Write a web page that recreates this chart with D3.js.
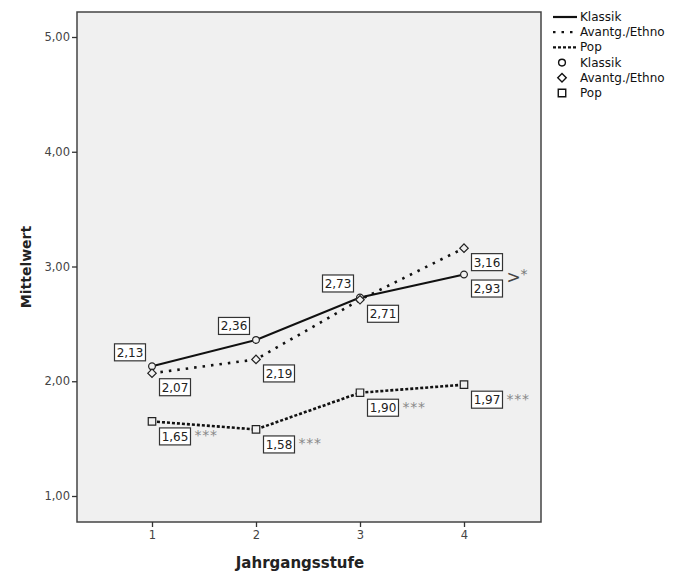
<!DOCTYPE html>
<html>
<head>
<meta charset="utf-8">
<script src="https://cdn.jsdelivr.net/npm/d3@7"></script>
<style>
  body { margin: 0; background: #fff; }
  text { font-family: "DejaVu Sans", sans-serif; }
</style>
</head>
<body>
<div id="chart"></div>
<script>
var width = 678, height = 574;

// Data
var stufen = [1, 2, 3, 4];
var klassik = [2.13, 2.36, 2.73, 2.93];
var avantg = [2.07, 2.19, 2.71, 3.16];
var pop = [1.65, 1.58, 1.90, 1.97];
var yTicks = [1, 2, 3, 4, 5];
// label side: "ul" = above left, "lr" = below right
var klassikSide = ["ul", "ul", "ul", "lr"];
var avantgSide = ["lr", "lr", "lr", "lr"];
var popSide = ["lr", "lr", "lr", "lr"];
var popSig = ["***", "***", "***", "***"];

var fmt = function(v) { return d3.format(".2f")(v).replace(".", ","); };

var box = {left: 77, right: 541, top: 12, bottom: 522};

var x = d3.scaleLinear().domain([1, 4]).range([152, 464]);
var y = d3.scaleLinear().domain([1, 5]).range([496, 37]);

var svg = d3.select("#chart").append("svg")
  .attr("width", width).attr("height", height);

svg.append("rect")
  .attr("x", box.left).attr("y", box.top)
  .attr("width", box.right - box.left).attr("height", box.bottom - box.top)
  .attr("fill", "#f0f0f0").attr("stroke", "#444").attr("stroke-width", 1.5);

// y axis
var yAxis = svg.append("g").attr("transform", "translate(" + box.left + ",0)")
  .call(d3.axisLeft(y).tickValues(yTicks).tickSize(5).tickFormat(fmt));
yAxis.select(".domain").remove();
yAxis.selectAll("line").attr("stroke", "#333").attr("stroke-width", 1.3);
yAxis.selectAll("text").attr("fill", "#444").style("font-size", "11.5px")
  .attr("x", -7);

// x axis
var xAxis = svg.append("g").attr("transform", "translate(0," + box.bottom + ")")
  .call(d3.axisBottom(x).tickValues(stufen).tickSize(5).tickFormat(d3.format("d")));
xAxis.select(".domain").remove();
xAxis.selectAll("line").attr("stroke", "#333").attr("stroke-width", 1.3);
xAxis.selectAll("text").attr("fill", "#444").style("font-size", "11.5px")
  .attr("y", 9);

svg.append("text")
  .attr("transform", "translate(31,267) rotate(-90)")
  .attr("text-anchor", "middle")
  .style("font-size", "14px").style("font-weight", "bold")
  .attr("fill", "#222")
  .text("Mittelwert");

svg.append("text")
  .attr("x", 300).attr("y", 568)
  .attr("text-anchor", "middle")
  .style("font-size", "15px").style("font-weight", "bold")
  .attr("fill", "#222")
  .text("Jahrgangsstufe");

var line = d3.line()
  .x(function(d, i) { return x(stufen[i]); })
  .y(function(d) { return y(d); });

var series = [
  {name: "Klassik", values: klassik, dash: null, sym: d3.symbolCircle, size: 36, rot: 0, side: klassikSide},
  {name: "Avantg./Ethno", values: avantg, dash: "2.5,6", sym: d3.symbolSquare, size: 36, rot: 45, side: avantgSide},
  {name: "Pop", values: pop, dash: "3,2", sym: d3.symbolSquare, size: 56, rot: 0, side: popSide}
];

series.forEach(function(s) {
  svg.append("path")
    .datum(s.values)
    .attr("d", line)
    .attr("fill", "none")
    .attr("stroke", "#111")
    .attr("stroke-width", s.dash ? 2.6 : 2)
    .attr("stroke-dasharray", s.dash);
});

series.forEach(function(s) {
  svg.selectAll(null).data(s.values).enter().append("path")
    .attr("d", d3.symbol().type(s.sym).size(s.size))
    .attr("transform", function(d, i) {
      return "translate(" + x(stufen[i]) + "," + y(d) + ") rotate(" + s.rot + ")"; })
    .attr("fill", "#f0f0f0").attr("stroke", "#222").attr("stroke-width", 1.2);
});

// value labels
var bw = 31, bh = 17;
function addLabel(px, py, side, txt, extraDy) {
  var cx = side === "ul" ? px - 22 : px + 23;
  var cy = side === "ul" ? py - 14 : py + 14 + (extraDy || 0);
  var g = svg.append("g");
  g.append("rect")
    .attr("x", cx - bw / 2).attr("y", cy - bh / 2)
    .attr("width", bw).attr("height", bh)
    .attr("fill", "#fff").attr("stroke", "#333").attr("stroke-width", 1.2);
  g.append("text")
    .attr("x", cx).attr("y", cy + 4.5)
    .attr("text-anchor", "middle")
    .style("font-size", "12px").attr("fill", "#222")
    .text(txt);
  return {cx: cx, cy: cy};
}

klassik.forEach(function(v, i) {
  var c = addLabel(x(stufen[i]), y(v), klassikSide[i], fmt(v));
  if (i === 3) {
    svg.append("text").attr("x", c.cx + bw / 2 + 4).attr("y", c.cy - 6)
      .style("font-size", "17px").attr("fill", "#444").text(">");
    svg.append("text").attr("x", c.cx + bw / 2 + 18).attr("y", c.cy - 10)
      .style("font-size", "14px").attr("fill", "#777").text("*");
  }
});
avantg.forEach(function(v, i) {
  addLabel(x(stufen[i]), y(v), avantgSide[i], fmt(v));
});
pop.forEach(function(v, i) {
  var c = addLabel(x(stufen[i]), y(v), popSide[i], fmt(v), 1);
  svg.append("text").attr("x", c.cx + bw / 2 + 4).attr("y", c.cy + 4)
    .style("font-size", "14px").style("letter-spacing", "0.8px")
    .attr("fill", "#888").text(popSig[i]);
});

// legend
var leg = svg.append("g").attr("transform", "translate(553,17)");
var rowH = 15.2;
series.forEach(function(s, i) {
  var gy = i * rowH;
  leg.append("line").attr("x1", 0).attr("x2", 24).attr("y1", gy).attr("y2", gy)
    .attr("stroke", "#111").attr("stroke-width", 2.2)
    .attr("stroke-dasharray", s.dash);
  leg.append("text").attr("x", 27).attr("y", gy + 4)
    .style("font-size", "12px").attr("fill", "#111").text(s.name);
});
series.forEach(function(s, i) {
  var gy = (i + 3) * rowH;
  leg.append("path")
    .attr("d", d3.symbol().type(s.sym).size(s.size))
    .attr("transform", "translate(9," + gy + ") rotate(" + s.rot + ")")
    .attr("fill", "#fff").attr("stroke", "#111").attr("stroke-width", 1.4);
  leg.append("text").attr("x", 27).attr("y", gy + 4)
    .style("font-size", "12px").attr("fill", "#111").text(s.name);
});
</script>
</body>
</html>
